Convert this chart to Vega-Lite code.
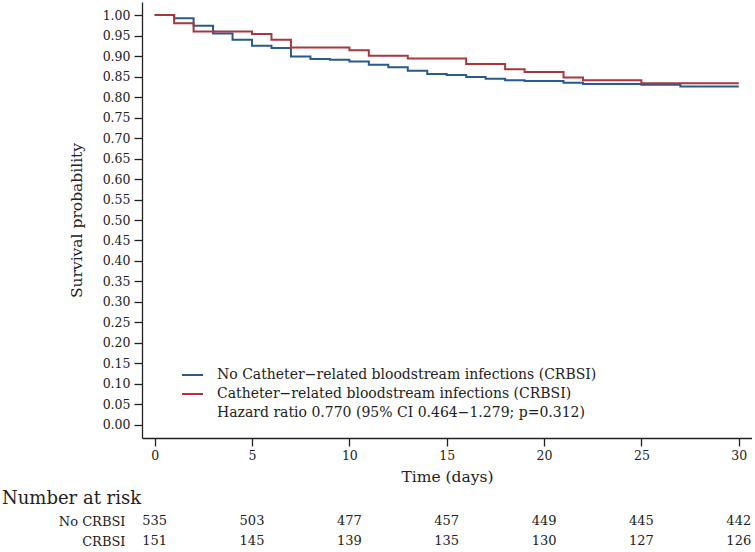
{
  "$schema": "https://vega.github.io/schema/vega-lite/v6.json",
  "padding": {"left": 2, "top": 2, "right": 0, "bottom": 0},
  "background": "white",
  "config": {
    "font": "DejaVu Serif",
    "view": {"stroke": null},
    "axis": {"domainColor": "#222", "tickColor": "#222", "labelColor": "#222", "titleColor": "#222", "labelFont": "DejaVu Serif", "titleFont": "DejaVu Serif", "titleFontWeight": "normal", "grid": false},
    "title": {"font": "DejaVu Serif", "fontWeight": "normal", "color": "#222"}
  },
  "datasets": {
    "km": [
      {"grp": "No Catheter−related bloodstream infections (CRBSI)", "t": 0, "s": 1.0},
      {"grp": "No Catheter−related bloodstream infections (CRBSI)", "t": 1, "s": 0.9925},
      {"grp": "No Catheter−related bloodstream infections (CRBSI)", "t": 2, "s": 0.974},
      {"grp": "No Catheter−related bloodstream infections (CRBSI)", "t": 3, "s": 0.955},
      {"grp": "No Catheter−related bloodstream infections (CRBSI)", "t": 4, "s": 0.940},
      {"grp": "No Catheter−related bloodstream infections (CRBSI)", "t": 5, "s": 0.925},
      {"grp": "No Catheter−related bloodstream infections (CRBSI)", "t": 6, "s": 0.920},
      {"grp": "No Catheter−related bloodstream infections (CRBSI)", "t": 7, "s": 0.899},
      {"grp": "No Catheter−related bloodstream infections (CRBSI)", "t": 8, "s": 0.893},
      {"grp": "No Catheter−related bloodstream infections (CRBSI)", "t": 9, "s": 0.891},
      {"grp": "No Catheter−related bloodstream infections (CRBSI)", "t": 10, "s": 0.887},
      {"grp": "No Catheter−related bloodstream infections (CRBSI)", "t": 11, "s": 0.879},
      {"grp": "No Catheter−related bloodstream infections (CRBSI)", "t": 12, "s": 0.873},
      {"grp": "No Catheter−related bloodstream infections (CRBSI)", "t": 13, "s": 0.864},
      {"grp": "No Catheter−related bloodstream infections (CRBSI)", "t": 14, "s": 0.856},
      {"grp": "No Catheter−related bloodstream infections (CRBSI)", "t": 15, "s": 0.854},
      {"grp": "No Catheter−related bloodstream infections (CRBSI)", "t": 16, "s": 0.849},
      {"grp": "No Catheter−related bloodstream infections (CRBSI)", "t": 17, "s": 0.845},
      {"grp": "No Catheter−related bloodstream infections (CRBSI)", "t": 18, "s": 0.841},
      {"grp": "No Catheter−related bloodstream infections (CRBSI)", "t": 19, "s": 0.839},
      {"grp": "No Catheter−related bloodstream infections (CRBSI)", "t": 21, "s": 0.835},
      {"grp": "No Catheter−related bloodstream infections (CRBSI)", "t": 22, "s": 0.832},
      {"grp": "No Catheter−related bloodstream infections (CRBSI)", "t": 25, "s": 0.830},
      {"grp": "No Catheter−related bloodstream infections (CRBSI)", "t": 27, "s": 0.826},
      {"grp": "No Catheter−related bloodstream infections (CRBSI)", "t": 30, "s": 0.826},
      {"grp": "Catheter−related bloodstream infections (CRBSI)", "t": 0, "s": 1.0},
      {"grp": "Catheter−related bloodstream infections (CRBSI)", "t": 1, "s": 0.980},
      {"grp": "Catheter−related bloodstream infections (CRBSI)", "t": 2, "s": 0.960},
      {"grp": "Catheter−related bloodstream infections (CRBSI)", "t": 5, "s": 0.954},
      {"grp": "Catheter−related bloodstream infections (CRBSI)", "t": 6, "s": 0.940},
      {"grp": "Catheter−related bloodstream infections (CRBSI)", "t": 7, "s": 0.921},
      {"grp": "Catheter−related bloodstream infections (CRBSI)", "t": 10, "s": 0.914},
      {"grp": "Catheter−related bloodstream infections (CRBSI)", "t": 11, "s": 0.901},
      {"grp": "Catheter−related bloodstream infections (CRBSI)", "t": 13, "s": 0.894},
      {"grp": "Catheter−related bloodstream infections (CRBSI)", "t": 16, "s": 0.881},
      {"grp": "Catheter−related bloodstream infections (CRBSI)", "t": 18, "s": 0.868},
      {"grp": "Catheter−related bloodstream infections (CRBSI)", "t": 19, "s": 0.861},
      {"grp": "Catheter−related bloodstream infections (CRBSI)", "t": 21, "s": 0.848},
      {"grp": "Catheter−related bloodstream infections (CRBSI)", "t": 22, "s": 0.841},
      {"grp": "Catheter−related bloodstream infections (CRBSI)", "t": 25, "s": 0.834},
      {"grp": "Catheter−related bloodstream infections (CRBSI)", "t": 30, "s": 0.834}
    ],
    "risk": [
      {"row": "No CRBSI", "t": 0, "n": 535}, {"row": "No CRBSI", "t": 5, "n": 503}, {"row": "No CRBSI", "t": 10, "n": 477},
      {"row": "No CRBSI", "t": 15, "n": 457}, {"row": "No CRBSI", "t": 20, "n": 449}, {"row": "No CRBSI", "t": 25, "n": 445},
      {"row": "No CRBSI", "t": 30, "n": 442},
      {"row": "CRBSI", "t": 0, "n": 151}, {"row": "CRBSI", "t": 5, "n": 145}, {"row": "CRBSI", "t": 10, "n": 139},
      {"row": "CRBSI", "t": 15, "n": 135}, {"row": "CRBSI", "t": 20, "n": 130}, {"row": "CRBSI", "t": 25, "n": 127},
      {"row": "CRBSI", "t": 30, "n": 126}
    ]
  },
  "spacing": 5,
  "vconcat": [
    {
      "width": 610,
      "height": 436,
      "data": {"name": "km"},
      "mark": {"type": "line", "interpolate": "step-after", "strokeWidth": 2},
      "encoding": {
        "x": {
          "field": "t", "type": "quantitative",
          "scale": {"domain": [-0.65, 30.68], "nice": false, "zero": false},
          "axis": {"values": [0, 5, 10, 15, 20, 25, 30], "title": "Time (days)", "titleFontSize": 15.5, "labelFontSize": 12.5, "tickSize": 8, "labelPadding": 3, "titlePadding": 8, "domainWidth": 1.3, "tickWidth": 1.3}
        },
        "y": {
          "field": "s", "type": "quantitative",
          "scale": {"domain": [-0.032, 1.032], "nice": false, "zero": false},
          "axis": {"values": [0, 0.05, 0.1, 0.15, 0.2, 0.25, 0.3, 0.35, 0.4, 0.45, 0.5, 0.55, 0.6, 0.65, 0.7, 0.75, 0.8, 0.85, 0.9, 0.95, 1], "format": ".2f", "title": "Survival probability", "titleFontSize": 15.5, "labelFontSize": 12.5, "tickSize": 8, "labelPadding": 4, "titlePadding": 18, "domainWidth": 1.3, "tickWidth": 1.3}
        },
        "color": {
          "field": "grp", "type": "nominal",
          "scale": {
            "domain": ["No Catheter−related bloodstream infections (CRBSI)", "Catheter−related bloodstream infections (CRBSI)", "Hazard ratio 0.770 (95% CI 0.464−1.279; p=0.312)"],
            "range": ["#285a8c", "#aa373c", "rgba(0,0,0,0)"]
          },
          "legend": {
            "title": null, "orient": "none", "legendX": 39, "legendY": 361.5,
            "symbolType": "stroke", "symbolSize": 441, "symbolStrokeWidth": 2,
            "labelFontSize": 14, "labelFont": "DejaVu Serif", "labelColor": "#222", "labelOffset": 13, "labelLimit": 600,
            "rowPadding": 0, "padding": 0
          }
        }
      }
    },
    {
      "width": 610,
      "height": 40,
      "data": {"name": "risk"},
      "title": {"text": "Number at risk", "anchor": "start", "frame": "group", "dx": -140, "fontSize": 18, "offset": 3},
      "mark": {"type": "text", "fontSize": 13, "font": "DejaVu Serif", "color": "#222"},
      "encoding": {
        "x": {"field": "t", "type": "quantitative", "scale": {"domain": [-0.65, 30.68], "nice": false, "zero": false}, "axis": null},
        "y": {"field": "row", "type": "nominal", "scale": {"domain": ["No CRBSI", "CRBSI"], "paddingInner": 0, "paddingOuter": 0}, "axis": {"title": null, "domain": false, "ticks": false, "labelPadding": 17, "labelFontSize": 13, "labelFont": "DejaVu Serif"}},
        "text": {"field": "n", "type": "quantitative"}
      }
    }
  ]
}
